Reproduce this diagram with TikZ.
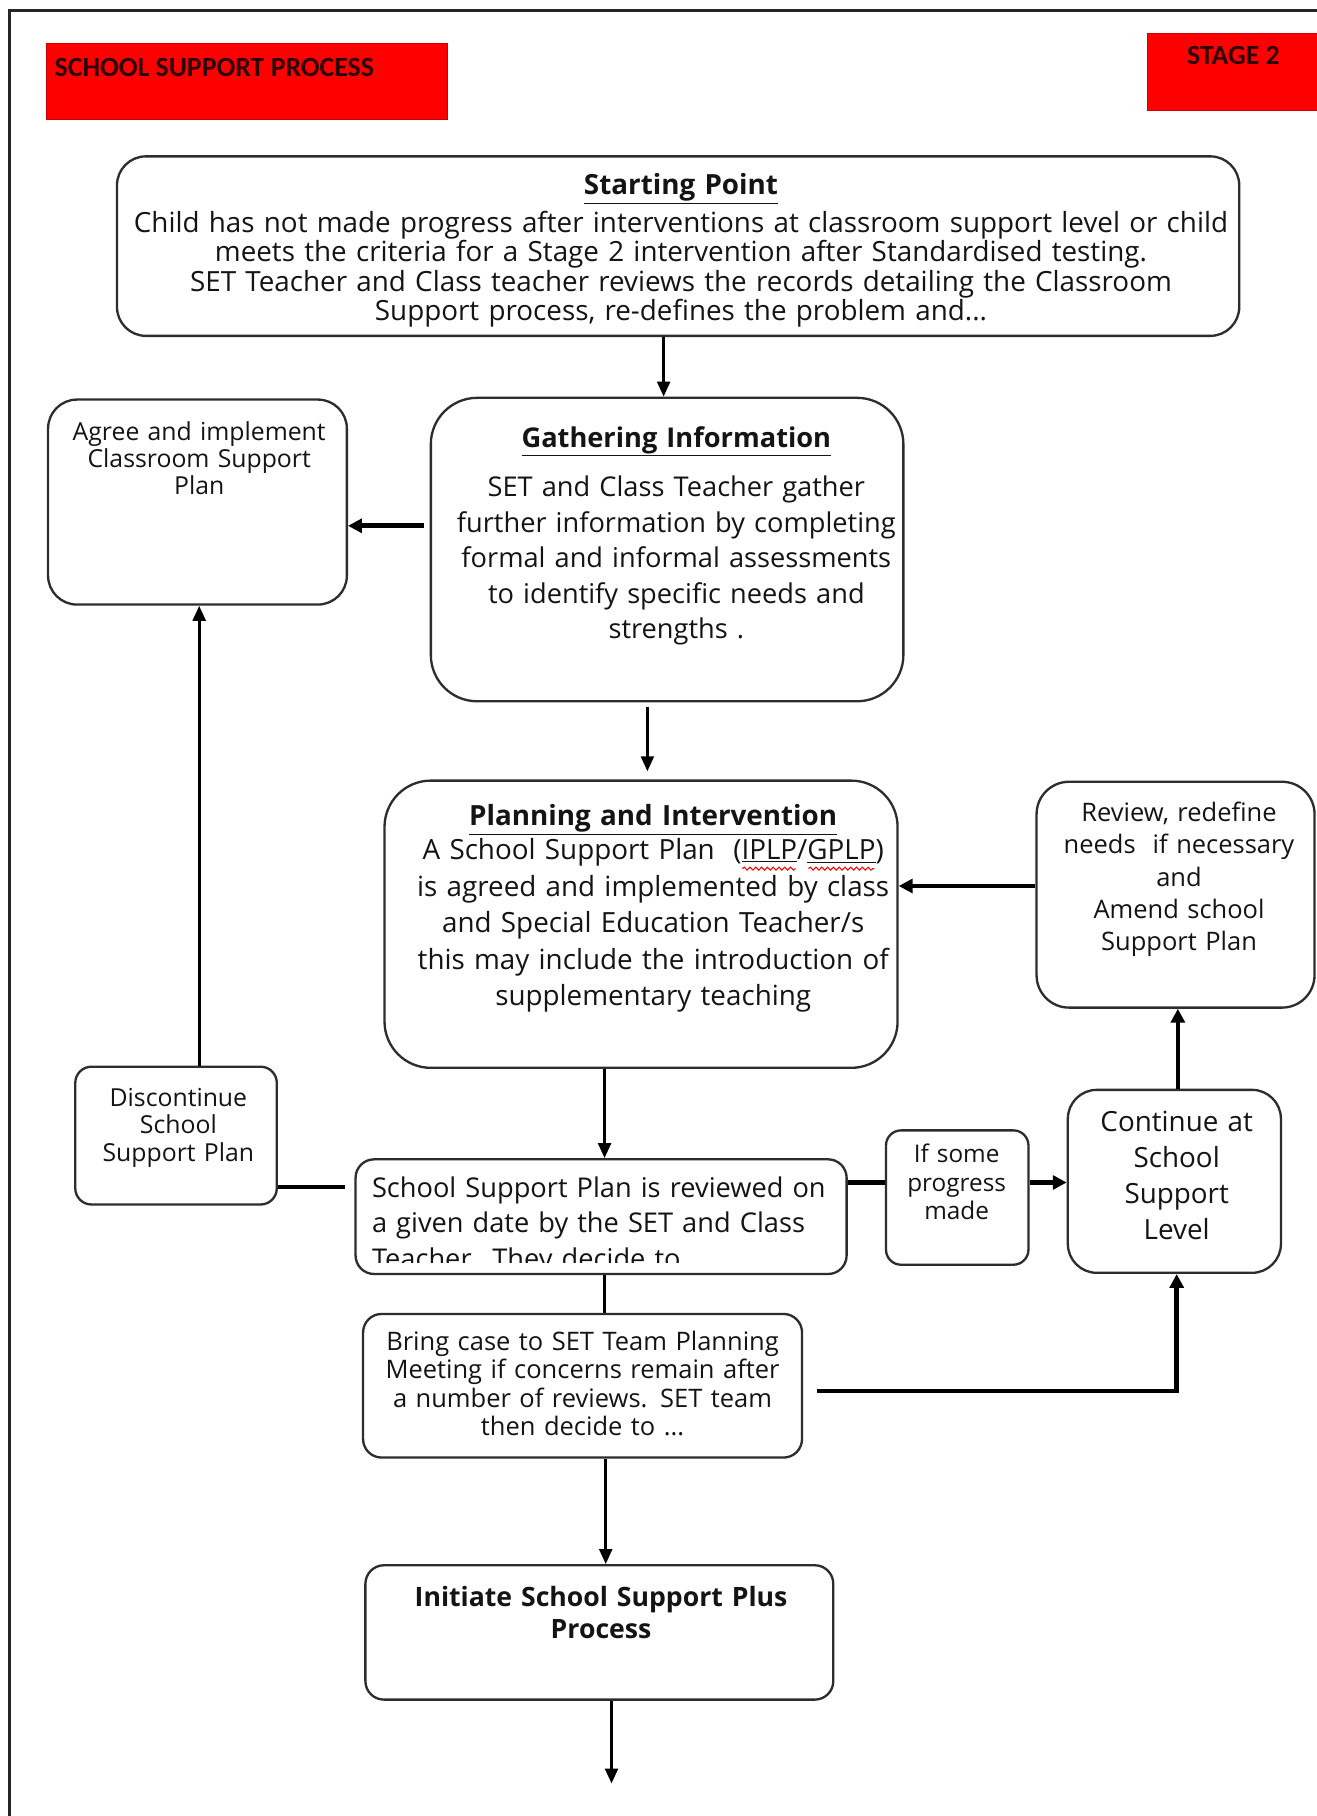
\documentclass[tikz,border=0pt]{standalone}
\usepackage{fontspec}
\setmainfont{Open Sans}
\newfontfamily\hdrfont{Carlito}
\usetikzlibrary{arrows.meta,decorations.pathmorphing}
\definecolor{hdrred}{RGB}{255,0,0}
\definecolor{hdrtext}{RGB}{45,0,0}
\definecolor{edgegray}{RGB}{45,45,45}
\newcommand\fsz[2]{\fontsize{#1}{#2}\selectfont}
\begin{document}
\begin{tikzpicture}[x=1pt,y=-1pt,
  box/.style={draw=edgegray, line width=2pt, fill=white, inner sep=0pt},
  hdrbox/.style={fill=hdrred, draw=hdrred!80!black, line width=0.8pt, inner sep=0pt},
  txt/.style={anchor=base, align=center, inner sep=0pt, text=black!92},
  hdrtxt/.style={anchor=base, inner sep=0pt, text=hdrtext, font=\hdrfont\bfseries\fsz{24}{28}},
  thinarr/.style={line width=2.6pt, draw=black, -{Triangle[length=13pt,width=11pt]}},
  thickarr/.style={line width=4pt, draw=black, -{Triangle[length=12pt,width=12pt]}},
  thickline/.style={line width=4pt, draw=black},
  thinline/.style={line width=2.6pt, draw=black},
  squig/.style={draw=red, line width=0.9pt, decorate, decoration={snake, amplitude=1.3pt, segment length=5pt}}
]
\useasboundingbox (0,0) rectangle (1137,1568);
\fill[white] (0,0) rectangle (1137,1568);
% page frame
\draw[line width=2.5pt, draw=black!85] (8,1568) -- (8,9) -- (1137,9);

% header boxes
\node[hdrbox, minimum width=346pt, minimum height=66pt] (hdrA) at (213,70.5) {};
\node[hdrtxt, anchor=base west] (hdrAT) at (47,66) {SCHOOL SUPPORT PROCESS};
\node[hdrbox, minimum width=148pt, minimum height=66pt] (hdrB) at (1065,62) {};
\node[hdrtxt] (hdrBT) at (1065,56) {STAGE 2};

% boxes
\node[box, rounded corners=25pt, minimum width=969pt, minimum height=155pt] (start) at (585.5,212.5) {};
\node[box, rounded corners=40pt, minimum width=408pt, minimum height=262pt] (gath) at (576,474.5) {};
\node[box, rounded corners=25pt, minimum width=258pt, minimum height=177pt] (agree) at (170.5,433.5) {};
\node[box, rounded corners=40pt, minimum width=443pt, minimum height=248pt] (plan) at (553.5,798) {};
\node[box, rounded corners=28pt, minimum width=240pt, minimum height=195pt] (review) at (1015,772.5) {};
\node[box, rounded corners=14pt, minimum width=174pt, minimum height=119pt] (disc) at (152,980.5) {};
\node[box, rounded corners=16pt, minimum width=424pt, minimum height=99pt] (rev) at (519,1050.5) {};
\node[box, rounded corners=13pt, minimum width=123pt, minimum height=116pt] (ifb) at (826.5,1034) {};
\node[box, rounded corners=25pt, minimum width=184pt, minimum height=158pt] (cont) at (1014,1020) {};
\node[box, rounded corners=16pt, minimum width=379pt, minimum height=124pt] (bring) at (503,1196.5) {};
\node[box, rounded corners=16pt, minimum width=404pt, minimum height=116pt] (init) at (517.5,1409.5) {};

% texts
\node[txt, text width=960pt, font=\fsz{24}{25.4}] (startT) at (588,168)
 {\underline{\textbf{Starting Point}}\\[5.6pt]
  Child has not made progress after interventions at classroom support level or child\\
  meets the criteria for a Stage 2 intervention after Standardised testing.\\
  SET Teacher and Class teacher reviews the records detailing the Classroom\\
  Support process, re-defines the problem and...};
\node[txt, text width=400pt, font=\fsz{23.5}{30.6}] (gathT) at (584,386)
 {\underline{\textbf{Gathering Information}}\\[12.4pt]
  SET and Class Teacher gather\\
  further information by completing\\
  formal and informal assessments\\
  to identify specific needs and\\
  strengths .};
\node[txt, text width=250pt, font=\fsz{21.4}{23.5}] (agreeT) at (172,380)
 {Agree and implement\\ Classroom Support\\ Plan};
\node[txt, text width=440pt, font=\fsz{24}{31.5}] (planT) at (564,713)
 {\underline{\textbf{Planning and Intervention}}\\[-2pt]
  A School Support Plan\ \ (\underline{IPLP}/\underline{GPLP})\\
  is agreed and implemented by class\\
  and Special Education Teacher/s\\
  this may include the introduction of\\
  supplementary teaching};
\node[txt, text width=236pt, font=\fsz{22}{28}] (reviewT) at (1018,709)
 {Review, redefine\\ needs\ \ if necessary\\ and\\ Amend school\\ Support Plan};
\node[txt, text width=170pt, font=\fsz{21.4}{24}] (discT) at (154,955)
 {Discontinue\\ School\\ Support Plan};
\node[txt, text width=120pt, font=\fsz{21}{24.5}] (ifT) at (826,1004)
 {If some\\ progress\\ made};
\node[txt, text width=180pt, font=\fsz{24}{31}] (contT) at (1016,977)
 {Continue at\\ School\\ Support\\ Level};
\begin{scope}
  \clip (308,1003) rectangle (730,1090.5);
  \node[txt, anchor=base west, align=left, text width=410pt, font=\fsz{23.5}{30.5}] (revT) at (321,1034)
   {School Support Plan is reviewed on\\
    a given date by the SET and Class\\
    Teacher. They decide to};
\end{scope}
\node[txt, text width=375pt, font=\fsz{22}{24.6}] (bringT) at (503,1165.7)
 {Bring case to SET Team Planning\\
  Meeting if concerns remain after\\
  a number of reviews. SET team\\
  then decide to ...};
\node[txt, text width=400pt, font=\bfseries\fsz{23}{27.7}] (initT) at (519,1387)
 {Initiate School Support Plus\\ Process};

% spell-check squiggles
\draw[squig] (641,750) -- (687,750);
\draw[squig] (698,750) -- (755,750);

% connectors
\coordinate (endpt) at (528,1540);
\draw[thinarr] (573,0 |- start.south) -- (573,0 |- gath.north);
\draw[thickarr, shorten <=5pt] (gath.west |- 0,454) -- (agree.east |- 0,454);
\draw[thinarr, shorten <=4pt, shorten >=7pt] (559,0 |- gath.south) -- (559,0 |- plan.north);
\draw[thickarr] (review.west |- 0,765) -- (plan.east |- 0,765);
\draw[thickarr] (1017,0 |- cont.north) -- (1017,0 |- review.south);
\draw[thinarr] (172,0 |- disc.north) -- (172,0 |- agree.south);
\draw[thinarr] (522,0 |- plan.south) -- (522,0 |- rev.north);
\draw[thickline, shorten <=8pt] (rev.west |- 0,1025) -- (disc.east |- 0,1025);
\draw[thickline] (rev.east |- 0,1021) -- (ifb.west |- 0,1021);
\draw[thickarr] (ifb.east |- 0,1021) -- (cont.west |- 0,1021);
\draw[thinline] (522,0 |- rev.south) -- (522,0 |- bring.north);
\draw[thickarr, shorten <=12pt] (bring.east |- 0,1201) -| (1016,0 |- cont.south);
\draw[thinarr] (523,0 |- bring.south) -- (523,0 |- init.north);
\draw[thinarr] (528,0 |- init.south) -- (endpt);
\end{tikzpicture}
\end{document}
